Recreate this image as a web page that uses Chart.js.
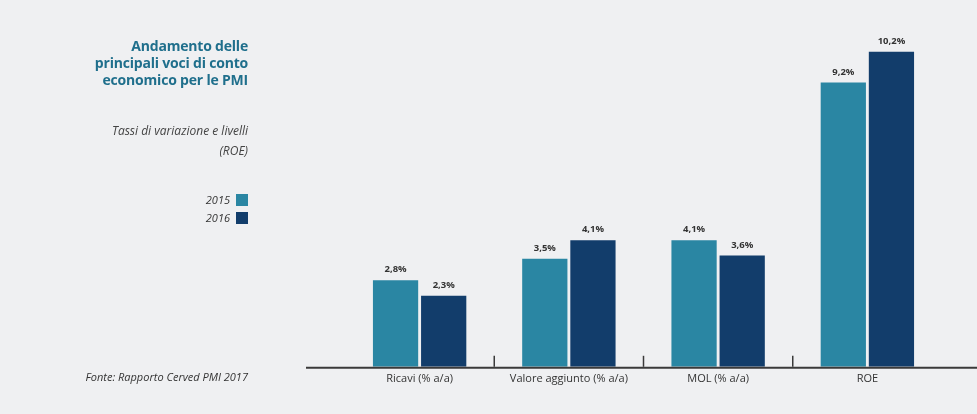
<!DOCTYPE html>
<html>
<head>
<meta charset="utf-8">
<script src="https://cdn.jsdelivr.net/npm/chart.js@4/dist/chart.umd.min.js"></script>
<style>
  html, body { margin: 0; padding: 0; background: #eff0f2; }
  #wrap { position: relative; width: 977px; height: 414px; overflow: hidden; font-family: "Open Sans", sans-serif; }
  #chart { position: absolute; left: 0; top: 0; }
  .side { position: absolute; right: 729px; text-align: right; }
  #title { top: 37px; color: #1f6f8c; font-weight: 700; font-size: 14px; line-height: 17px; letter-spacing: -0.2px; }
  #sub { top: 121px; color: #444; font-style: italic; font-size: 12px; line-height: 20px; }
  #legend { top: 191px; color: #333; font-style: italic; font-size: 11px; line-height: 18px; }
  #legend span.sw { display: inline-block; width: 12px; height: 12px; vertical-align: -2px; margin-left: 6px; }
  #source { top: 369px; color: #333; font-style: italic; font-size: 11px; }
</style>
</head>
<body>
<div id="wrap">
  <canvas id="chart" width="977" height="414"></canvas>
  <div class="side" id="title">Andamento delle<br>principali voci di conto<br>economico per le PMI</div>
  <div class="side" id="sub">Tassi di variazione e livelli<br>(ROE)</div>
  <div class="side" id="legend"></div>
  <div class="side" id="source">Fonte: Rapporto Cerved PMI 2017</div>
</div>
<script>
const categories = ["Ricavi (% a/a)", "Valore aggiunto (% a/a)", "MOL (% a/a)", "ROE"];
const years = ["2015", "2016"];
const values2015 = [2.8, 3.5, 4.1, 9.2];
const values2016 = [2.3, 4.1, 3.6, 10.2];
const colors = ["#2a86a3", "#123d6b"];

// legenda a sinistra
document.getElementById("legend").innerHTML = years
    .map((y, i) => `${y}<span class="sw" style="background:${colors[i]}"></span>`)
    .join("<br>");

// asse orizzontale e tacche fra le categorie
const axisPlugin = {
    id: "axisLine",
    afterDatasetsDraw(chart) {
        const ctx = chart.ctx;
        const x = chart.scales.x;
        const bottom = chart.chartArea.bottom;
        ctx.save();
        ctx.strokeStyle = "#3a3a3a";
        ctx.lineWidth = 2;
        ctx.beginPath();
        ctx.moveTo(306, bottom + 1);
        ctx.lineTo(977, bottom + 1);
        ctx.stroke();
        ctx.lineWidth = 1.5;
        for (let i = 0; i < categories.length - 1; i++) {
            const px = (x.getPixelForValue(i) + x.getPixelForValue(i + 1)) / 2;
            ctx.beginPath();
            ctx.moveTo(px, bottom);
            ctx.lineTo(px, bottom - 11);
            ctx.stroke();
        }
        ctx.restore();
    }
};

// etichette sopra le barre
const labelPlugin = {
    id: "barLabels",
    afterDatasetsDraw(chart) {
        const ctx = chart.ctx;
        ctx.save();
        ctx.font = "bold 9.5px 'Open Sans'";
        ctx.fillStyle = "#333";
        ctx.textAlign = "center";
        ctx.textBaseline = "bottom";
        chart.data.datasets.forEach((ds, di) => {
            chart.getDatasetMeta(di).data.forEach((bar, i) => {
                ctx.fillText(ds.data[i].toFixed(1).replace(".", ",") + "%", bar.x, bar.y - 6);
            });
        });
        ctx.restore();
    }
};

new Chart(document.getElementById("chart"), {
    type: "bar",
    data: {
        labels: categories,
        datasets: [
            { label: years[0], data: values2015, backgroundColor: colors[0] },
            { label: years[1], data: values2016, backgroundColor: colors[1] }
        ]
    },
    options: {
        responsive: false,
        animation: false,
        layout: { padding: { left: 345, right: 35, top: 27, bottom: 24 } },
        categoryPercentage: 0.645,
        barPercentage: 0.94,
        plugins: { legend: { display: false }, tooltip: { enabled: false } },
        scales: {
            x: {
                grid: { display: false, drawTicks: false },
                border: { display: false },
                ticks: { color: "#333", font: { family: "Open Sans", size: 11 }, padding: 5 }
            },
            y: { display: false, min: 0, max: 11 }
        }
    },
    plugins: [axisPlugin, labelPlugin]
});
</script>
</body>
</html>
